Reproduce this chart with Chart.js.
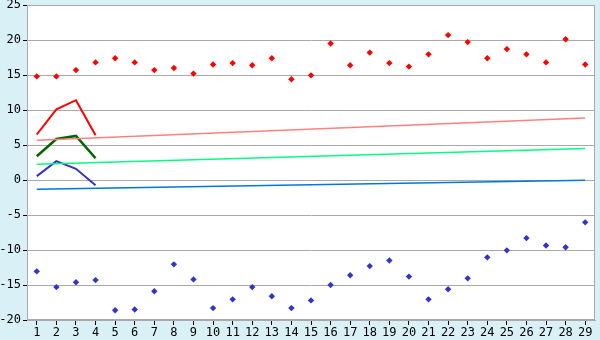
<!DOCTYPE html>
<html>
<head>
<meta charset="utf-8">
<script src="https://cdn.jsdelivr.net/npm/chart.js@4"></script>
<style>
  html, body { margin: 0; padding: 0; background: #daf0f7; }
  #wrap { width: 600px; height: 340px; }
</style>
</head>
<body>
<div id="wrap"><canvas id="chart" width="600" height="340"></canvas></div>
<script>
// Categories (days)
const days = ['1','2','3','4','5','6','7','8','9','10','11','12','13','14','15',
  '16','17','18','19','20','21','22','23','24','25','26','27','28','29'];

// Scatter series
const highPts = [14.8, 14.8, 15.7, 16.8, 17.4, 16.8, 15.7, 16.0, 15.2, 16.5,
  16.7, 16.4, 17.4, 14.4, 14.95, 19.5, 16.4, 18.2, 16.7, 16.2,
  17.95, 20.7, 19.7, 17.4, 18.7, 17.95, 16.8, 20.1, 16.5];
const lowPts = [-13.05, -15.3, -14.6, -14.3, -18.6, -18.5, -15.9, -12.05, -14.2, -18.3,
  -17.05, -15.3, -16.6, -18.3, -17.2, -15.0, -13.6, -12.3, -11.5, -13.8,
  -17.05, -15.6, -14.05, -11.05, -10.05, -8.3, -9.35, -9.6, -6.05];

// Short line series (first four days)
const redLine = [6.5, 10.1, 11.4, 6.4];
const greenLine = [3.4, 5.85, 6.3, 3.1];
const blueLine = [0.55, 2.7, 1.6, -0.75];

// Trend lines: value at first and last day
const trendRed = [5.67, 8.86];
const trendGreen = [2.24, 4.5];
const trendBlue = [-1.33, -0.05];

// Y ticks
const yMin = -20, yMax = 25, yStep = 5;

function trend(vals) {
  return [{ x: days[0], y: vals[0] }, { x: days[days.length - 1], y: vals[1] }];
}

const plotBg = {
  id: 'plotBg',
  beforeDraw(chart) {
    const { ctx, chartArea: a } = chart;
    ctx.save();
    ctx.fillStyle = '#daf0f7';
    ctx.fillRect(0, 0, chart.width, chart.height);
    ctx.fillStyle = '#ffffff';
    ctx.fillRect(a.left, a.top, a.right - a.left, a.bottom - a.top);
    ctx.restore();
  },
  afterDatasetsDraw(chart) {
    const { ctx, chartArea: a } = chart;
    ctx.save();
    ctx.strokeStyle = '#aaaaaa';
    ctx.lineWidth = 1;
    ctx.strokeRect(a.left + 0.5, a.top + 0.5, a.right - a.left - 1, a.bottom - a.top - 1);
    ctx.restore();
  }
};

const font = { family: '"DejaVu Sans Mono", monospace', size: 12 };

function pts(data, color) {
  return {
    data: data,
    showLine: false,
    pointStyle: 'rectRot',
    pointRadius: 3.2,
    pointBackgroundColor: color,
    pointBorderWidth: 0,
    borderColor: color
  };
}

function line(data, color, width) {
  return {
    data: data,
    borderColor: color,
    borderWidth: width,
    pointRadius: 0,
    tension: 0,
    fill: false
  };
}

new Chart(document.getElementById('chart'), {
  type: 'line',
  data: {
    labels: days,
    datasets: [
      line(trend(trendRed), '#ff8080', 1.5),
      line(trend(trendGreen), '#00ff80', 1.5),
      line(trend(trendBlue), '#0077dd', 1.5),
      line(redLine, '#ff0000', 2),
      line(greenLine, '#006600', 2.5),
      line(blueLine, '#3333cc', 2),
      pts(highPts, '#ff0000'),
      pts(lowPts, '#3333cc')
    ]
  },
  plugins: [plotBg],
  options: {
    responsive: false,
    animation: false,
    devicePixelRatio: 1,
    layout: { padding: { left: 0, right: 5, top: 5, bottom: 0 } },
    plugins: { legend: { display: false }, tooltip: { enabled: false } },
    scales: {
      x: {
        type: 'category',
        offset: true,
        grid: {
          offset: false,
          drawOnChartArea: false,
          drawTicks: true,
          tickLength: 5,
          tickColor: '#000000'
        },
        border: { color: '#aaaaaa' },
        ticks: { color: '#000000', font: font, padding: 1, maxRotation: 0, autoSkip: false },
        afterFit(scale) { scale.height = 20; }
      },
      y: {
        min: yMin,
        max: yMax,
        grid: {
          color: '#aaaaaa',
          tickLength: 4,
          tickColor: '#000000'
        },
        border: { color: '#aaaaaa' },
        ticks: { stepSize: yStep, color: '#000000', font: font, padding: 2 },
        afterFit(scale) {
          scale.width = 27;
          scale.paddingTop = 0;
          scale.paddingBottom = 0;
        }
      }
    }
  }
});
</script>
</body>
</html>
